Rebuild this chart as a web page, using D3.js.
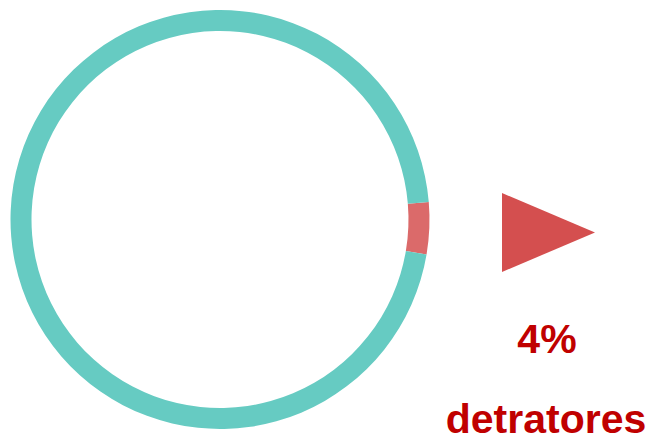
<!DOCTYPE html>
<html>
<head>
<meta charset="utf-8">
<script src="https://cdn.jsdelivr.net/npm/d3@7"></script>
<style>
  body { margin: 0; background: #fff; }
  svg { display: block; }
</style>
</head>
<body>
<script>
  const width = 656,
    height = 442;

  // data
  var categories = ['detratores', 'outros'];
  var values = [4, 96];
  var colors = ['#DB6A6A', '#66CBC2'];
  var labelValue = '4%';
  var labelText = 'detratores';

  var svg = d3.select('body')
    .append('svg')
    .attr('width', width)
    .attr('height', height);

  var cx = 220, cy = 219.5,
    outerR = 209.5, innerR = 188.5;

  // red slice starts a little above 3 o'clock
  var start = 85.2 * Math.PI / 180;

  var pie = d3.pie()
    .sort(null)
    .value(d => d)
    .startAngle(start)
    .endAngle(start + 2 * Math.PI);

  var arc = d3.arc()
    .innerRadius(innerR)
    .outerRadius(outerR);

  svg.append('g')
    .attr('transform', 'translate(' + cx + ',' + cy + ')')
    .selectAll('path')
    .data(pie(values))
    .enter()
    .append('path')
    .attr('d', arc)
    .style('fill', (d, i) => colors[i]);

  // pointer triangle
  svg.append('path')
    .attr('d', 'M502,193 L595,232.5 L502,272 Z')
    .style('fill', '#D44F4F');

  svg.append('text')
    .attr('x', 547)
    .attr('y', 353)
    .attr('text-anchor', 'middle')
    .style('font-family', 'Liberation Sans, Arial, sans-serif')
    .style('font-weight', 'bold')
    .style('font-size', '41px')
    .style('fill', '#C00000')
    .text(labelValue);

  svg.append('text')
    .attr('x', 546)
    .attr('y', 433)
    .attr('text-anchor', 'middle')
    .style('font-family', 'Liberation Sans, Arial, sans-serif')
    .style('font-weight', 'bold')
    .style('font-size', '41px')
    .style('fill', '#C00000')
    .text(labelText);
</script>
</body>
</html>
